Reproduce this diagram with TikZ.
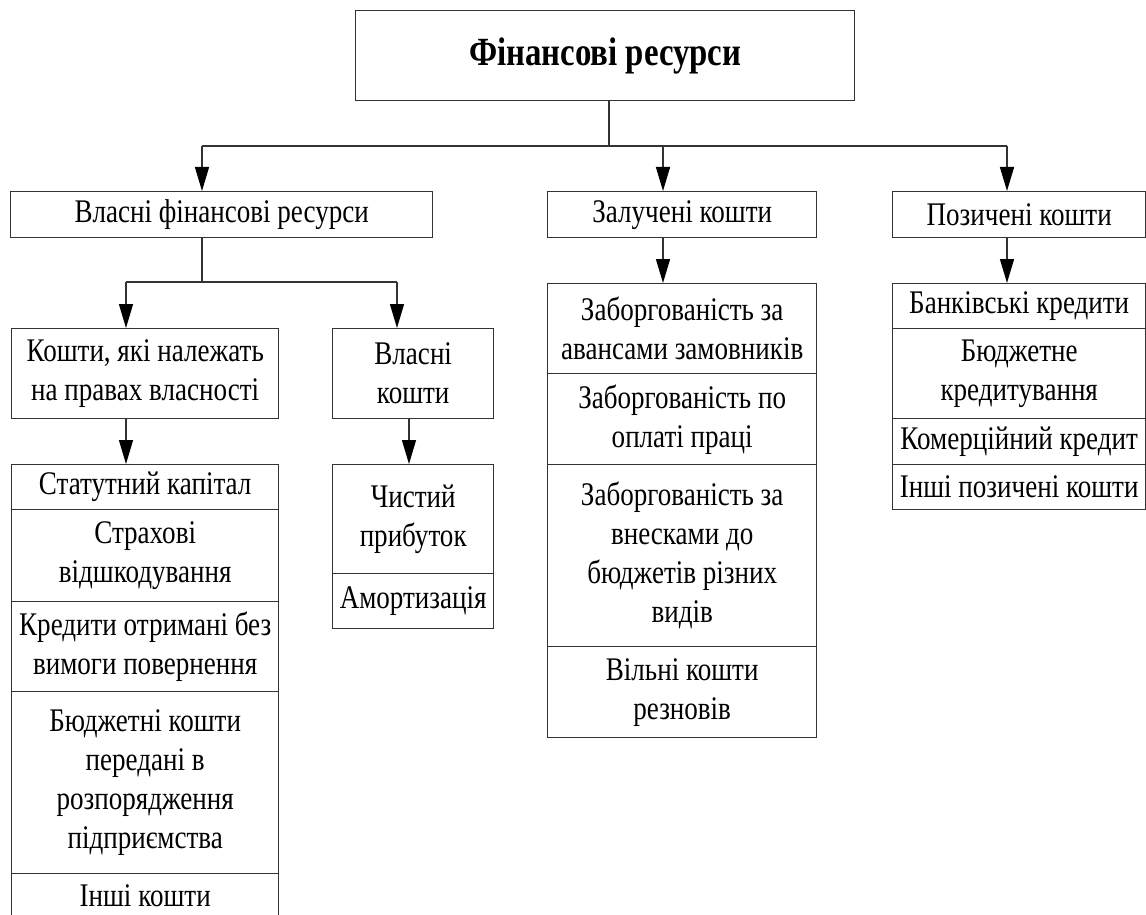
\documentclass[tikz,border=0pt]{standalone}
\usepackage{fontspec}
\setmainfont[FakeStretch=0.82]{Liberation Serif}
\usetikzlibrary{arrows.meta}

\begin{document}
\begin{tikzpicture}[x=0.5pt,y=-0.5pt,
    box/.style={draw=black!80, line width=0.7pt, anchor=north west, inner sep=0pt, align=center, font=\fontsize{16.5}{19.5}\selectfont},
    wh/.style 2 args={minimum width=#1*0.5pt, minimum height=#2*0.5pt},
    ln/.style={draw=black!80, line width=0.7pt},
    arr/.style={ln, -{Triangle[length=12pt,width=7pt,fill=black,color=black]}}]
    \useasboundingbox (0,0) rectangle (1146,915);
    \clip (0,0) rectangle (1146,915);

    % top level
    \node[box, wh={499}{90}, font=\fontsize{20}{24}\selectfont\bfseries] (fin) at (355,10) {Фінансові ресурси};

    % second level
    \node[box, wh={422}{46}] (vlasni) at (10,191) {Власні фінансові ресурси};
    \node[box, wh={269}{46}] (zaluch) at (547,191) {Залучені кошти};
    \node[box, wh={253}{46}] (pozych) at (892,191) {Позичені кошти};

    % own resources
    \node[box, wh={267}{90}] (koshty) at (11,328) {Кошти, які належать\\на правах власності};
    \node[box, wh={161}{90}] (vlkoshty) at (332,328) {Власні\\кошти};

    \node[box, wh={267}{45}] (a1) at (11,464) {Статутний капітал};
    \node[box, wh={267}{92}] (a2) at (11,509) {Страхові\\відшкодування};
    \node[box, wh={267}{90}] (a3) at (11,601) {Кредити отримані без\\вимоги повернення};
    \node[box, wh={267}{182}] (a4) at (11,691) {Бюджетні кошти\\передані в\\розпорядження\\підприємства};
    \node[box, wh={267}{45}] (a5) at (11,873) {Інші кошти};

    \node[box, wh={161}{109}] (b1) at (332,464) {Чистий\\прибуток};
    \node[box, wh={161}{55}] (b2) at (332,573) {Амортизація};

    % attracted funds
    \node[box, wh={269}{90}] (c1) at (547,283) {Заборгованість за\\авансами замовників};
    \node[box, wh={269}{91}] (c2) at (547,373) {Заборгованість по\\оплаті праці};
    \node[box, wh={269}{182}] (c3) at (547,464) {Заборгованість за\\внесками до\\бюджетів різних\\видів};
    \node[box, wh={269}{91}] (c4) at (547,646) {Вільні кошти\\резновів};

    % borrowed funds
    \node[box, wh={253}{45}] (d1) at (892,283) {Банківські кредити};
    \node[box, wh={253}{90}] (d2) at (892,328) {Бюджетне\\кредитування};
    \node[box, wh={253}{46}] (d3) at (892,418) {Комерційний кредит};
    \node[box, wh={253}{45}] (d4) at (892,464) {Інші позичені кошти};

    % connectors
    \coordinate (s0) at (609,146);
    \coordinate (s1) at (202,146);
    \coordinate (s2) at (663,146);
    \coordinate (s3) at (1007,146);
    \draw[ln] (fin.south -| s0) -- (s0);
    \draw[ln] (s1) -- (s3);
    \draw[arr] (s1) -- (s1 |- vlasni.north);
    \draw[arr] (s2) -- (s2 |- zaluch.north);
    \draw[arr] (s3) -- (s3 |- pozych.north);

    \coordinate (t0) at (202,282);
    \coordinate (t1) at (126,282);
    \coordinate (t2) at (397,282);
    \draw[ln] (vlasni.south -| t0) -- (t0);
    \draw[ln] (t1) -- (t2);
    \draw[arr] (t1) -- (t1 |- koshty.north);
    \draw[arr] (t2) -- (t2 |- vlkoshty.north);

    \draw[arr] (zaluch.south -| s2) -- (s2 |- c1.north);
    \draw[arr] (pozych.south -| s3) -- (s3 |- d1.north);
    \draw[arr] (koshty.south -| t1) -- (t1 |- a1.north);
    \coordinate (u1) at (409,418);
    \draw[arr] (u1) -- (u1 |- b1.north);

\end{tikzpicture}
\end{document}
